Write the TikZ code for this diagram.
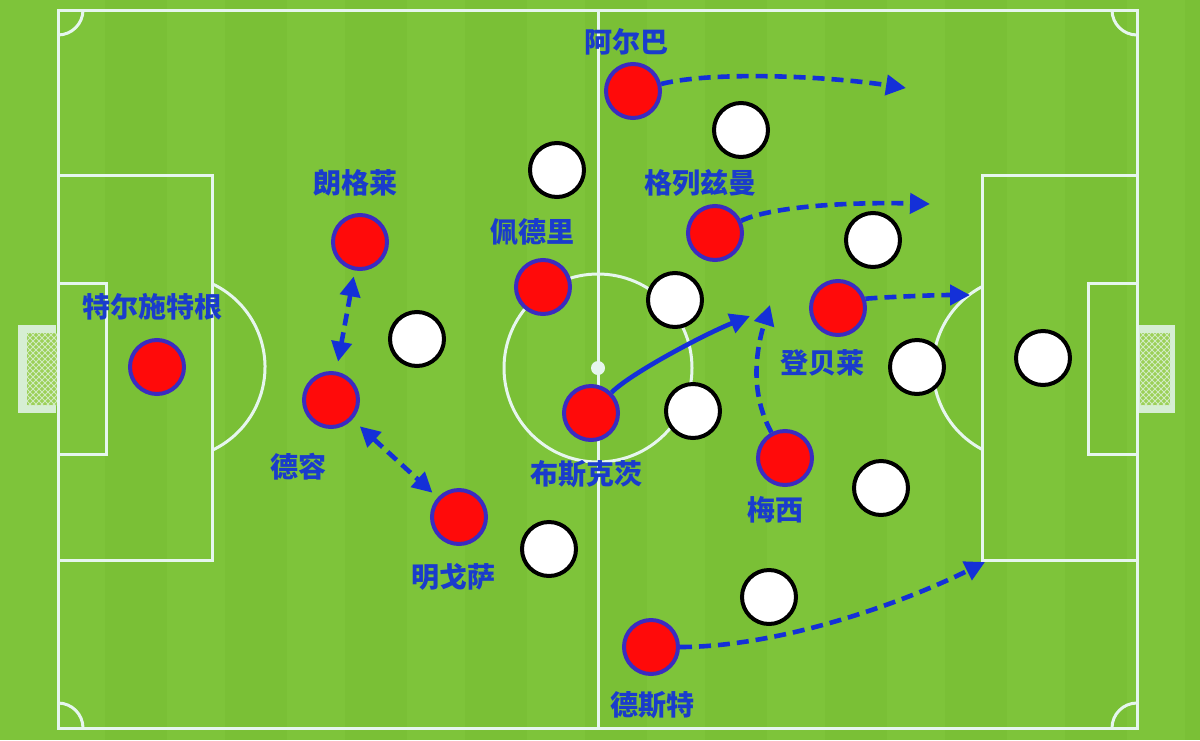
\documentclass[tikz,border=0pt]{standalone}
\usepackage{fontspec}
\newfontfamily\cjk{Noto Sans CJK SC}
\usepackage{xcolor}
\usetikzlibrary{arrows.meta,patterns}
\definecolor{grass}{HTML}{7EC43A}
\definecolor{grassdark}{HTML}{7AC036}
\definecolor{chalk}{HTML}{E6F6EE}
\definecolor{teamblue}{HTML}{1A3CCC}
\definecolor{rimblue}{HTML}{3A2CC0}
\definecolor{arrowblue}{HTML}{1430D8}
\definecolor{shirtred}{HTML}{FF0A0A}
\definecolor{netgreen}{HTML}{9CD058}

\begin{document}
\begin{tikzpicture}[x = .5pt, y = -.5pt,
  chalkline/.style = {draw = chalk, line width = 1.5pt},
  home/.style = {circle, fill = shirtred, draw = rimblue, line width = 2pt, minimum size = 27pt, inner sep = 0pt},
  away/.style = {circle, fill = white, draw = black, line width = 2pt, minimum size = 27pt, inner sep = 0pt},
  plname/.style = {font = \cjk\bfseries\fontsize{14}{16}\selectfont, text = teamblue, inner sep = 0pt},
  run/.style = {draw = arrowblue, line width = 2.3pt, dash pattern = on 6pt off 3.5pt, -{Triangle[length = 10pt, width = 10pt]}},
  pass/.style = {draw = arrowblue, line width = 2.3pt, -{Triangle[length = 10pt, width = 10pt]}},
  swap/.style = {draw = arrowblue, line width = 2.3pt, dash pattern = on 6pt off 3.5pt, {Triangle[length = 10pt, width = 10pt]}-{Triangle[length = 10pt, width = 10pt]}}]
  \useasboundingbox (0,0) rectangle (1200,740);
  \fill[grass] (0,0) rectangle (1200,740);
  \foreach \i in {0,...,9}
    \fill[grassdark] (\i*120 + 105,0) rectangle +(62,740);
  % goals
  \foreach \gx/\nx in {18/27, 1137/1140} {
    \fill[chalk!85!grass] (\gx,325) rectangle +(38,88);
    \fill[netgreen] (\nx,333) rectangle +(30,72);
    \fill[pattern = north east lines, pattern color = chalk!70!netgreen] (\nx,333) rectangle +(30,72);
    \fill[pattern = north west lines, pattern color = chalk!70!netgreen] (\nx,333) rectangle +(30,72);
  }
  % pitch markings
  \draw[chalkline] (58,10) rectangle (1137,728);
  \draw[chalkline] (598,10) -- (598,728);
  \draw[chalkline] (598,368) circle[radius = 94];
  \fill[chalk] (598,368) circle[radius = 7];
  \draw[chalkline] (58,175) rectangle (212,560);
  \draw[chalkline] (58,283) rectangle (106,454);
  \draw[chalkline] (982,175) rectangle (1137,560);
  \draw[chalkline] (1088,283) rectangle (1137,454);
  \draw[chalkline] (173,367) ++(-65:92) arc[start angle = -65, end angle = 65, radius = 92];
  \draw[chalkline] (1025,368) ++(118:92) arc[start angle = 118, end angle = 242, radius = 92];
  \draw[chalkline] (58,35) arc[start angle = 90, end angle = 0, radius = 25];
  \draw[chalkline] (1112,10) arc[start angle = 180, end angle = 90, radius = 25];
  \draw[chalkline] (58,703) arc[start angle = -90, end angle = 0, radius = 25];
  \draw[chalkline] (1112,728) arc[start angle = 180, end angle = 270, radius = 25];

  % red side
  \node[home] (ter) at (157,367) {};
  \node[home] (lang) at (360,242) {};
  \node[home] (dejong) at (331,400) {};
  \node[home] (ming) at (459,517) {};
  \node[home] (pedri) at (543,287) {};
  \node[home] (busq) at (591,413) {};
  \node[home] (alba) at (633,91) {};
  \node[home] (griez) at (715,233) {};
  \node[home] (demb) at (838,308) {};
  \node[home] (messi) at (785,458) {};
  \node[home] (dest) at (651,647) {};
  % white side
  \node[away] (w1) at (417,339) {};
  \node[away] (w2) at (557,170) {};
  \node[away] (w3) at (741,130) {};
  \node[away] (w4) at (873,240) {};
  \node[away] (w5) at (675,300) {};
  \node[away] (w6) at (693,411) {};
  \node[away] (w7) at (917,367) {};
  \node[away] (w8) at (1043,358) {};
  \node[away] (w9) at (881,488) {};
  \node[away] (w10) at (549,549) {};
  \node[away] (w11) at (769,597) {};

  \node[plname] (terN) at (153,307) {特尔施特根};
  \node[plname] (langN) at (355,183) {朗格莱};
  \node[plname] (dejongN) at (298,467) {德容};
  \node[plname] (mingN) at (453,577) {明戈萨};
  \node[plname] (pedriN) at (532,232) {佩德里};
  \node[plname] (busqN) at (586,474) {布斯克茨};
  \node[plname] (albaN) at (626,42) {阿尔巴};
  \node[plname] (griezN) at (700,183) {格列兹曼};
  \node[plname] (dembN) at (822,363) {登贝莱};
  \node[plname] (messiN) at (775,510) {梅西};
  \node[plname] (destN) at (652,705) {德斯特};

  % runs and passes
  \coordinate (albaTo) at (906,88);
  \coordinate (griezTo) at (930,204);
  \coordinate (dembTo) at (970,295);
  \coordinate (messiTo) at (770,305);
  \coordinate (busqTo) at (750,316);
  \coordinate (destTo) at (985,562);
  \draw[run] (alba) .. controls +(80,-20) and +(-80,-12) .. (albaTo);
  \draw[run] (griez) .. controls +(60,-28) and +(-70,-2) .. (griezTo);
  \draw[run] (demb) .. controls +(30,-10) and +(-40,0) .. (dembTo);
  \draw[run] (messi.118) .. controls +(-22,-40) and +(-14,45) .. (messiTo);
  \draw[pass] (busq) .. controls +(40,-40) and +(-45,18) .. (busqTo);
  \draw[run] (dest) .. controls +(130,0) and +(-80,40) .. (destTo);
  \draw[swap, shorten <= 3pt, shorten >= 5pt] (lang) -- (dejong);
  \draw[swap, shorten <= 5pt, shorten >= 3.5pt] (dejong) -- (ming);
\end{tikzpicture}
\end{document}
